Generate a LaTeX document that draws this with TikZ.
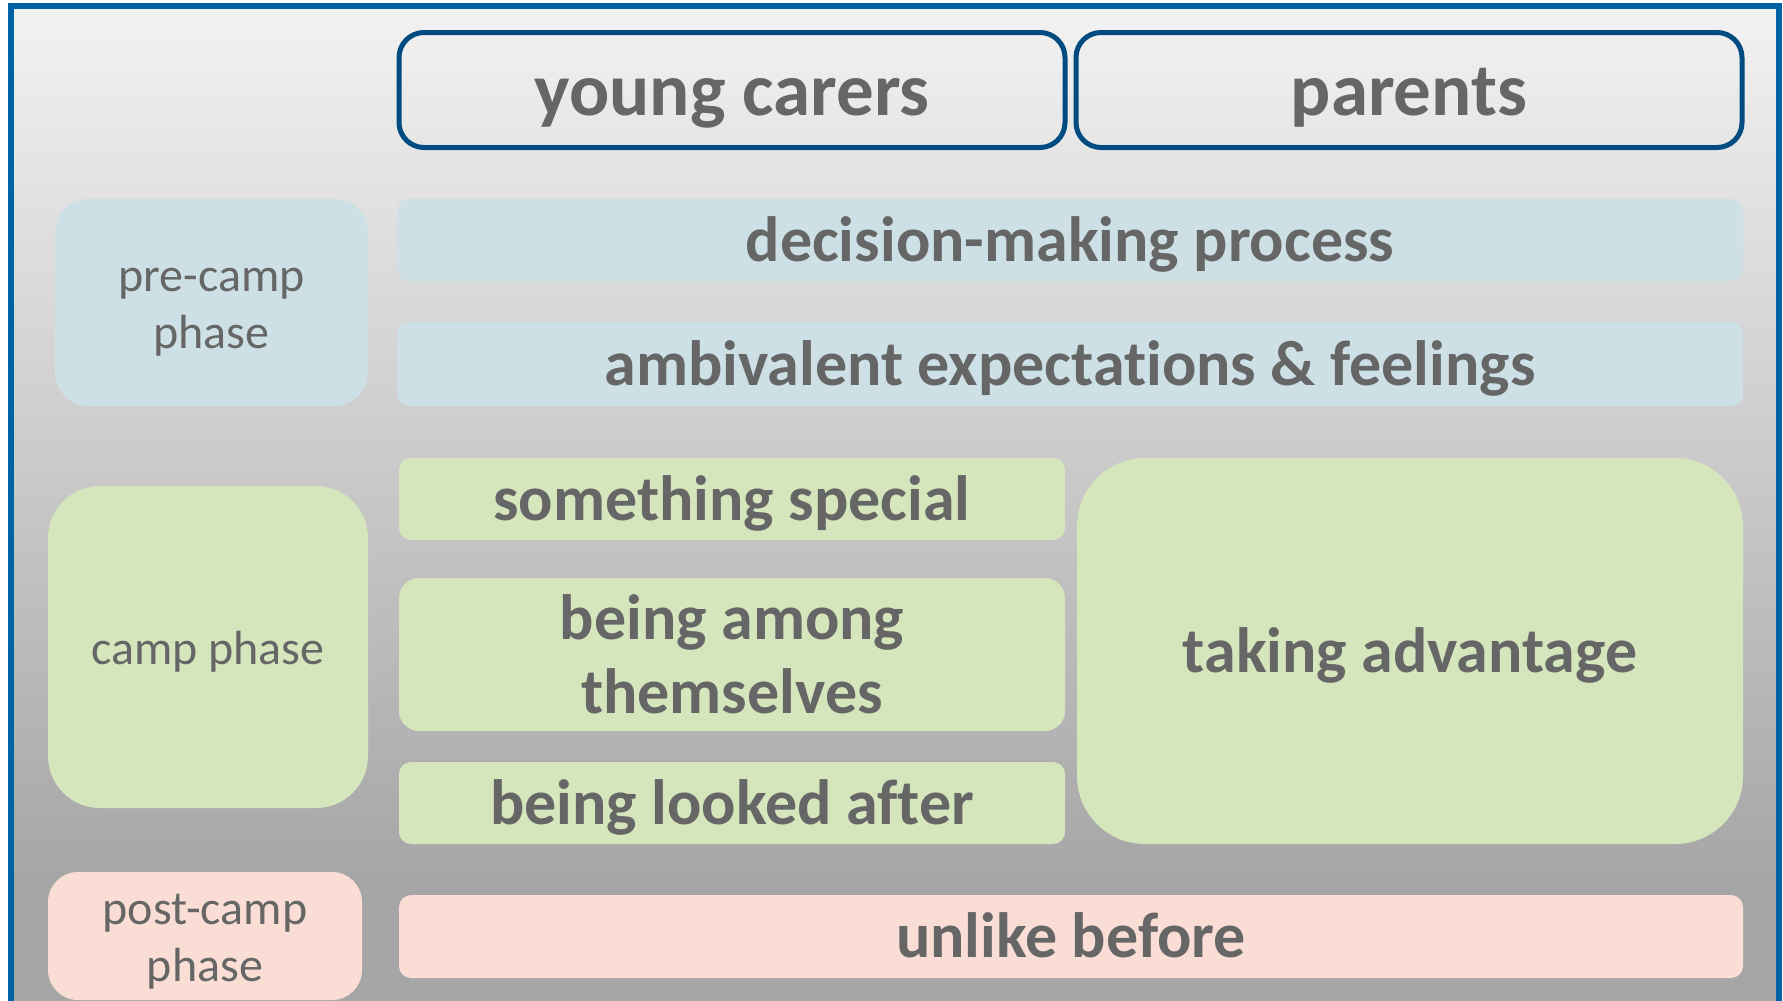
\documentclass[tikz,border=0pt]{standalone}
\usepackage{fontspec}
\setmainfont{Carlito}[Ligatures=NoCommon]
\definecolor{frameblue}{RGB}{0,99,166}
\definecolor{headblue}{RGB}{0,75,128}
\definecolor{txtgray}{RGB}{102,102,102}
\definecolor{prefill}{RGB}{205,224,230}
\definecolor{campfill}{RGB}{213,230,189}
\definecolor{postfill}{RGB}{250,222,214}
\tikzset{
  header/.style={draw=headblue, line width=5pt, fill=none, rounded corners=25pt,
    text=txtgray, font=\fontsize{75}{80}\selectfont\bfseries, inner sep=0pt,
    text height=56pt, text depth=6pt},
  theme/.style={draw=none, text=txtgray, align=center, inner sep=0pt,
    font=\fontsize{64}{74}\selectfont\bfseries, rounded corners=12pt,
    text height=46pt, text depth=4pt},
  themetwo/.style={draw=none, text=txtgray, align=center, inner sep=0pt,
    font=\fontsize{64}{74}\selectfont\bfseries, rounded corners=20pt},
  phasebox/.style={draw=none, inner sep=0pt},
  phasetext/.style={text=txtgray, align=center, inner sep=0pt,
    font=\fontsize{48}{57}\selectfont},
}
\begin{document}
\begin{tikzpicture}[x=1pt,y=-1pt]
\useasboundingbox (0,0) rectangle (1783,1001);
% background panel
\shade[top color=black!5, bottom color=black!35] (11,6) rectangle (1779,880);
\fill[black!35] (11,879) rectangle (1779,1010);
\draw[frameblue, line width=6pt] (11,1010) -- (11,6) -- (1779,6) -- (1779,1010);

% column headers
\node[header, minimum width=666pt, minimum height=115pt] (yc) at (732,90) {young carers};
\node[header, minimum width=666pt, minimum height=115pt] (par) at (1409,90) {parents};

% pre-camp phase
\node[phasebox, fill=prefill, rounded corners=34pt, minimum width=313pt, minimum height=207pt] (pre) at (211.5,302.5) {};
\node[phasetext] (pre-t) at ([yshift=-10pt]pre.center) {pre-camp\\phase};
\node[theme, fill=prefill, minimum width=1346pt, minimum height=82pt] (dec) at (1070,240) {decision-making process};
\node[theme, fill=prefill, minimum width=1346pt, minimum height=84pt] (amb) at (1070,364) {ambivalent expectations \& feelings};

% camp phase
\node[phasebox, fill=campfill, rounded corners=52pt, minimum width=320pt, minimum height=322pt] (camp) at (208,647) {};
\node[phasetext] (camp-t) at ([yshift=-5pt]camp.center) {camp phase};
\node[theme, fill=campfill, minimum width=666pt, minimum height=82pt] (spec) at (732,499) {something special};
\node[themetwo, fill=campfill, minimum width=666pt, minimum height=153pt] (among) at (732,654.5) {being among\\themselves};
\node[theme, fill=campfill, minimum width=666pt, minimum height=82pt] (look) at (732,803) {being looked after};
\node[theme, fill=campfill, rounded corners=68pt, minimum width=666pt, minimum height=386pt] (adv) at (1410,651) {taking advantage};

% post-camp phase
\node[phasebox, fill=postfill, rounded corners=30pt, minimum width=314pt, minimum height=128pt] (post) at (205,936) {};
\node[phasetext] (post-t) at ([yshift=-6pt]post.center) {post-camp\\phase};
\node[theme, fill=postfill, minimum width=1344pt, minimum height=83pt] (unl) at (1071,936.5) {unlike before};
\end{tikzpicture}
\end{document}
